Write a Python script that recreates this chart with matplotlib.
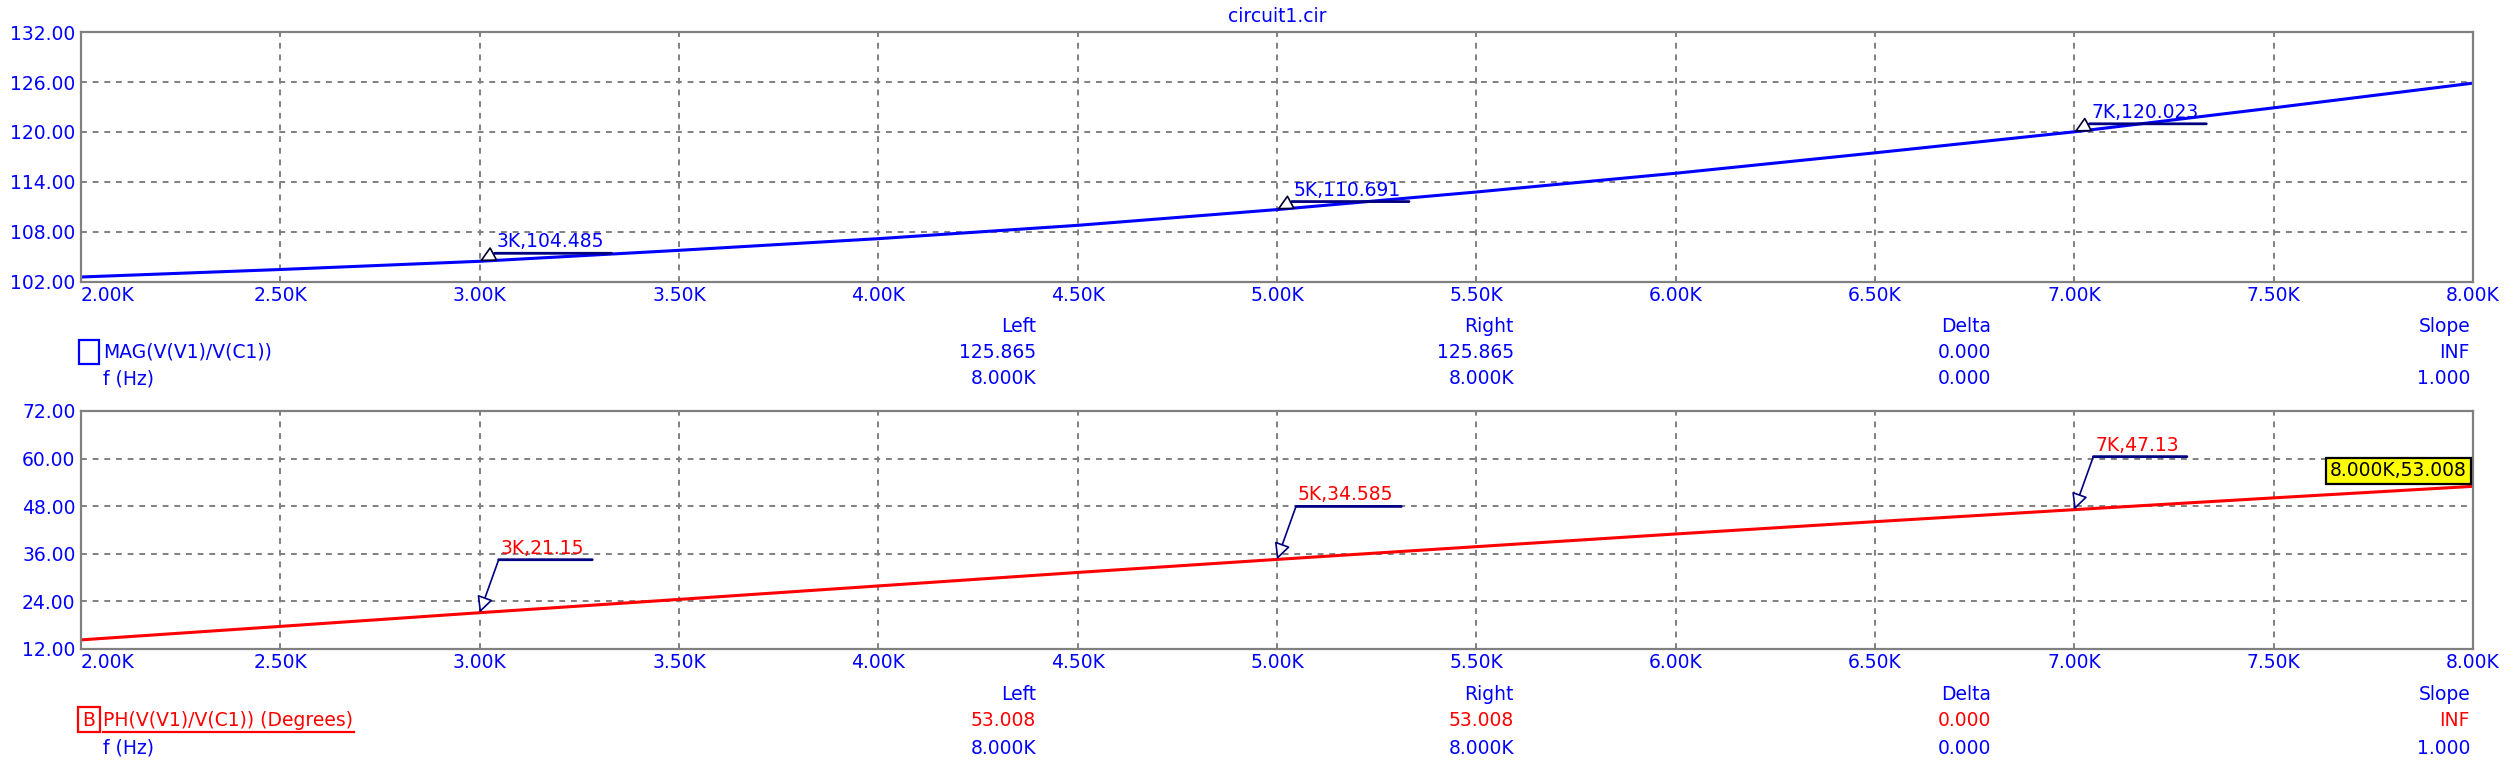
import matplotlib
matplotlib.use("Agg")
import matplotlib.pyplot as plt
from matplotlib.patches import Rectangle
from matplotlib.lines import Line2D
from matplotlib.ticker import FuncFormatter, MultipleLocator
from matplotlib.transforms import offset_copy

plt.rcParams['font.family'] = ['DejaVu Sans']

# frequency sweep (Hz)
freq = [2000, 2500, 3000, 3500, 4000, 4500, 5000, 5500, 6000, 6500, 7000, 7500, 8000]
mag = [102.6, 103.5, 104.485, 105.8, 107.2, 108.8, 110.691, 112.8, 115.05, 117.5, 120.023, 122.9, 125.865]
phase = [14.3, 17.7, 21.15, 24.5, 27.9, 31.3, 34.585, 37.8, 41.0, 44.1, 47.13, 50.1, 53.008]

# tagged points
tag_freq = [3000, 5000, 7000]
mag_tags = [104.485, 110.691, 120.023]
phase_tags = [21.15, 34.585, 47.13]
cursor_freq = 8000
cursor_phase = 53.008

# cursor tables under each plot
columns = ["Left", "Right", "Delta", "Slope"]
mag_row = ["125.865", "125.865", "0.000", "INF"]
ph_row = ["53.008", "53.008", "0.000", "INF"]
f_row = ["8.000K", "8.000K", "0.000", "1.000"]

BLUE = "#0000FF"
RED = "#FF0000"
NAVY = "#000080"
GRAY = "#808080"
W, H = 2516, 773
FS = 13.5

fig = plt.figure(figsize=(W / 100, H / 100), dpi=100)
fig.patch.set_facecolor("white")

ax1 = fig.add_axes([81 / W, 1 - 282 / H, 2392 / W, 250 / H])
ax2 = fig.add_axes([81 / W, 1 - 649 / H, 2392 / W, 238 / H])


def khz(x, pos=None):
    return f"{x / 1000:.2f}K"


def setup(ax, ylo, yhi, ystep):
    ax.set_xlim(freq[0], freq[-1])
    ax.set_ylim(ylo, yhi)
    ax.xaxis.set_major_locator(MultipleLocator(500))
    ax.yaxis.set_major_locator(MultipleLocator(ystep))
    # first x label sits left-aligned on the axis, drawn separately below
    ax.xaxis.set_major_formatter(FuncFormatter(lambda x, p: "" if x <= freq[0] else khz(x)))
    ax.yaxis.set_major_formatter(FuncFormatter(lambda y, p: f"{y:.2f}"))
    ax.tick_params(length=0, labelsize=FS, labelcolor=BLUE)
    ax.tick_params(axis="x", pad=3)
    ax.tick_params(axis="y", pad=4)
    for s in ax.spines.values():
        s.set_color(GRAY)
        s.set_linewidth(1.6)
    ax.grid(True, color=GRAY, linestyle=(0, (3, 3)), linewidth=1.4)
    ax.set_axisbelow(True)
    ax.text(0, 0, khz(freq[0]), transform=offset_copy(ax.transAxes, fig=fig, y=-3, units="points"),
            ha="left", va="top", color=BLUE, fontsize=FS)


def tag(ax, f, v, color, dx, dy, edge):
    label = f"{int(f / 1000)}K,{v}"
    ul = 11.7 * len(label)
    ax.annotate("", xy=(f, v), xytext=(dx, dy), textcoords="offset pixels",
                annotation_clip=False,
                arrowprops=dict(arrowstyle="-|>,head_length=0.7,head_width=0.35",
                                fc="white", ec=edge, lw=1.2, shrinkA=0, shrinkB=0,
                                mutation_scale=14))
    ax.annotate("", xy=(f, v),
                xycoords=offset_copy(ax.transData, fig=fig, x=dx, y=dy, units="dots"),
                xytext=(ul, 0), textcoords="offset pixels", annotation_clip=False,
                arrowprops=dict(arrowstyle="-", color=NAVY, lw=2, shrinkA=0, shrinkB=0))
    ax.annotate(label, xy=(f, v), xytext=(dx + 2, dy + 6), textcoords="offset pixels",
                ha="left", va="baseline", color=color, fontsize=FS, annotation_clip=False)


# magnitude panel
setup(ax1, 102, 132, 6)
ax1.plot(freq, mag, color=BLUE, lw=2.2)
for f, v in zip(tag_freq, mag_tags):
    tag(ax1, f, v, BLUE, 15, 8, "#000030")

# phase panel
setup(ax2, 12, 72, 12)
ax2.plot(freq, phase, color=RED, lw=2.2)
for f, v in zip(tag_freq, phase_tags):
    tag(ax2, f, v, RED, 19, 53, NAVY)
ax2.annotate(f"{cursor_freq / 1000:.3f}K,{cursor_phase}", xy=(cursor_freq, cursor_phase),
             xytext=(-6, 6), textcoords="offset pixels", ha="right", va="bottom",
             fontsize=FS, color="black", annotation_clip=False,
             bbox=dict(boxstyle="square,pad=0.2", fc="yellow", ec="black", lw=1.6))

# title
fig.text((81 + 2473) / 2 / W, 1 - 17 / H, "circuit1.cir", ha="center", va="center",
         color=BLUE, fontsize=FS)


def ftext(x, y, s, **kw):
    kw.setdefault("fontsize", FS)
    return fig.text(x / W, 1 - y / H, s, va="center", **kw)


col_x = [1036, 1514, 1991, 2470]

# table under magnitude plot
for x, c, a, b in zip(col_x, columns, mag_row, f_row):
    ftext(x, 326, c, ha="right", color=BLUE)
    ftext(x, 352, a, ha="right", color=BLUE)
    ftext(x, 379, b, ha="right", color=BLUE)
fig.add_artist(Rectangle((79 / W, 1 - 364 / H), 20 / W, 24 / H, transform=fig.transFigure,
                         fill=False, ec=BLUE, lw=1.6))
ftext(103, 352, "MAG(V(V1)/V(C1))", ha="left", color=BLUE)
ftext(103, 379, "f (Hz)", ha="left", color=BLUE)

# table under phase plot
for x, c, a, b in zip(col_x, columns, ph_row, f_row):
    ftext(x, 695, c, ha="right", color=BLUE)
    ftext(x, 721, a, ha="right", color=RED)
    ftext(x, 748, b, ha="right", color=BLUE)
fig.add_artist(Rectangle((78 / W, 1 - 732 / H), 22 / W, 25 / H, transform=fig.transFigure,
                         fill=False, ec=RED, lw=1.6))
ftext(89, 720, "B", ha="center", color=RED)
ph_label = ftext(103, 720, "PH(V(V1)/V(C1)) (Degrees)", ha="left", color=RED)
fig.canvas.draw()
ph_end = ph_label.get_window_extent().x1
fig.add_artist(Line2D([103 / W, (ph_end + 1) / W], [1 - 732 / H, 1 - 732 / H],
                      transform=fig.transFigure, color=RED, lw=1.6))
ftext(103, 748, "f (Hz)", ha="left", color=BLUE)

fig.savefig("out.png", dpi=100)
